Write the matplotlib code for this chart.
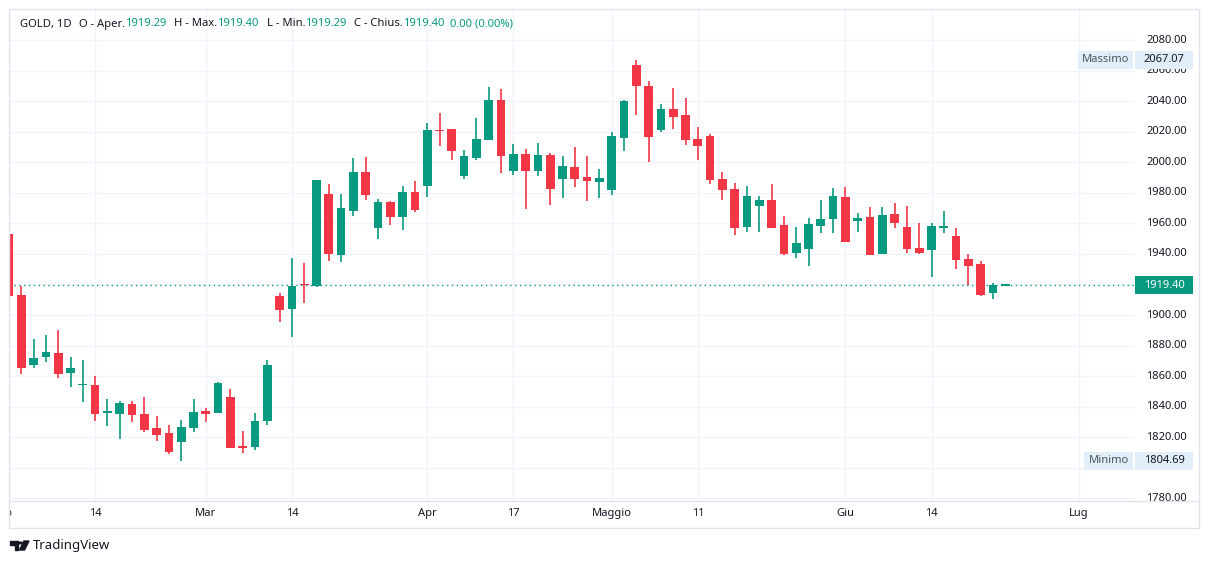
import matplotlib
matplotlib.use("Agg")
import matplotlib.pyplot as plt
from matplotlib.patches import Rectangle, Polygon, Circle
from matplotlib.lines import Line2D

plt.rcParams["font.family"] = ["Noto Sans", "DejaVu Sans"]

# daily OHLC, GOLD 1D
opens = [1953.0, 1913.1, 1867.3, 1872.5, 1875.2, 1862.1, 1854.0, 1854.2, 1836.1, 1835.5,
         1841.8, 1835.2, 1826.1, 1822.8, 1817.1, 1826.3, 1837.2, 1836.1, 1846.4, 1813.8,
         1813.9, 1830.9, 1912.5, 1904.2, 1920.0, 1919.2, 1979.2, 1939.5, 1968.3, 1993.6,
         1957.2, 1974.0, 1964.4, 1980.5, 1984.7, 2021.1, 2021.8, 1991.2, 2003.0, 2014.8,
         2040.7, 1994.5, 2005.4, 1994.5, 2004.7, 1989.3, 1996.9, 1990.3, 1987.3, 1982.1,
         2016.1, 2063.6, 2049.9, 2021.3, 2034.9, 2030.9, 2015.2, 2017.2, 1989.0, 1982.5,
         1957.6, 1971.4, 1975.3, 1958.9, 1940.8, 1943.4, 1958.5, 1963.1, 1977.2, 1961.8,
         1964.2, 1940.2, 1966.1, 1957.6, 1943.9, 1942.8, 1957.2, 1951.7, 1936.7, 1933.4,
         1914.2, 1919.29]
highs = [1955.0, 1919.0, 1884.3, 1886.9, 1890.2, 1872.5, 1870.6, 1860.1, 1845.1, 1843.7,
         1843.7, 1846.4, 1833.9, 1828.0, 1831.3, 1845.1, 1839.2, 1856.2, 1851.6, 1824.3,
         1835.9, 1870.6, 1914.4, 1937.3, 1934.1, 1988.4, 1985.8, 1979.2, 2003.0, 2003.4,
         1976.0, 1974.6, 1984.4, 1987.7, 2025.7, 2032.2, 2022.0, 2008.0, 2028.9, 2049.3,
         2047.9, 2011.9, 2008.7, 2012.6, 2006.0, 2004.1, 2010.0, 2004.1, 1995.6, 2019.8,
         2040.7, 2067.07, 2053.2, 2038.1, 2048.6, 2042.0, 2023.1, 2018.5, 1993.6, 1986.4,
         1984.4, 1977.9, 1985.8, 1964.8, 1957.6, 1963.5, 1975.3, 1983.1, 1983.8, 1966.8,
         1970.7, 1970.7, 1973.3, 1971.4, 1960.2, 1960.2, 1968.1, 1957.0, 1939.9, 1935.4,
         1921.2, 1919.40]
lows = [1911.0, 1861.4, 1865.6, 1869.5, 1859.0, 1853.1, 1843.3, 1830.9, 1827.6, 1819.1,
        1830.2, 1823.7, 1817.8, 1809.3, 1804.69, 1823.7, 1830.2, 1835.7, 1813.0, 1809.9,
        1811.9, 1828.3, 1895.7, 1885.8, 1908.1, 1918.6, 1935.6, 1935.0, 1965.0, 1975.5,
        1950.0, 1959.1, 1955.9, 1967.7, 1977.5, 2010.9, 2001.7, 1989.3, 2001.7, 2014.8,
        1993.2, 1991.9, 1969.6, 1991.2, 1972.2, 1976.8, 1984.0, 1974.9, 1976.8, 1978.8,
        2007.6, 2031.1, 2000.4, 2020.0, 2022.0, 2011.5, 2001.7, 1986.0, 1975.5, 1952.4,
        1954.3, 1954.3, 1957.0, 1939.5, 1937.6, 1932.3, 1953.9, 1953.9, 1947.8, 1954.6,
        1939.3, 1940.0, 1957.2, 1940.8, 1940.2, 1925.1, 1953.9, 1930.3, 1919.9, 1912.7,
        1910.7, 1919.29]
closes = [1912.5, 1865.6, 1871.9, 1875.8, 1861.6, 1865.3, 1854.3, 1835.5, 1836.6, 1842.4,
          1834.8, 1825.0, 1821.7, 1810.6, 1826.7, 1836.6, 1835.5, 1855.5, 1813.2, 1813.2,
          1830.7, 1867.3, 1903.5, 1919.0, 1919.4, 1988.4, 1940.2, 1970.1, 1993.6, 1978.8,
          1974.0, 1964.4, 1980.5, 1969.0, 2021.1, 2020.6, 2007.6, 2004.1, 2015.2, 2040.7,
          2004.3, 2005.4, 1994.5, 2004.7, 1982.7, 1997.5, 1989.3, 1988.0, 1989.7, 2017.2,
          2040.1, 2050.1, 2016.7, 2034.9, 2029.8, 2014.8, 2010.9, 1988.6, 1982.1, 1957.2,
          1977.9, 1975.3, 1957.2, 1940.2, 1947.2, 1959.6, 1962.8, 1977.9, 1948.0, 1963.5,
          1939.5, 1965.5, 1960.4, 1943.4, 1940.8, 1958.3, 1957.6, 1936.2, 1932.3, 1913.3,
          1919.4, 1919.40]

price_ticks = [1780, 1800, 1820, 1840, 1860, 1880, 1900, 1920, 1940, 1960,
               1980, 2000, 2020, 2040, 2060, 2080]
time_labels = ["Feb", "14", "Mar", "14", "Apr", "17", "Maggio", "11", "Giu", "14", "Lug"]
time_pos = [-0.45, 7, 16, 23, 34, 41, 49, 56, 68, 75, 87]

last_price = 1919.40
max_price = 2067.07
min_price = 1804.69

UP = "#089981"
DOWN = "#F23645"
TXT = "#131722"
GRID = "#F0F3FA"
FRAME = "#E0E3EB"

W, H = 1209, 564
STEP = 12.3  # px per bar


def box(x0, y0, x1, y1):
    return [x0 / W, 1 - y1 / H, (x1 - x0) / W, (y1 - y0) / H]


def fp(x, y):
    return x / W, 1 - y / H


fig = plt.figure(figsize=(W / 100, H / 100), dpi=100)
fig.patch.set_facecolor("white")

ylo, yhi = 1778.3, 2100.3
ax = fig.add_axes(box(9, 9, 1135, 501))
ax.set_xlim(0, (1135 - 9) / STEP)
ax.set_ylim(ylo, yhi)
ax.axis("off")

for p in price_ticks:
    ax.axhline(p, color=GRID, lw=1, zorder=0)
for t in time_pos[1:]:
    ax.axvline(t, color=GRID, lw=1, zorder=0)

n = len(opens)
idx = list(range(n))
cols = [UP if c >= o else DOWN for o, c in zip(opens, closes)]
bottoms = [min(o, c) for o, c in zip(opens, closes)]
heights = [max(abs(c - o), 0.8) for o, c in zip(opens, closes)]
ax.vlines(idx, lows, highs, colors=cols, lw=1.2, zorder=2)
ax.bar(idx, heights, bottom=bottoms, width=0.7, color=cols, lw=0, zorder=3)

ax.axhline(last_price, color=UP, lw=1, ls=(0, (1, 2.5)), zorder=1)

# price scale
pax = fig.add_axes(box(1135, 9, 1199, 501))
pax.set_xlim(0, 64)
pax.set_ylim(ylo, yhi)
pax.axis("off")
for p in price_ticks:
    if abs(p - last_price) < 5:
        continue  # sits under the last-price tag
    pax.text(52, p, f"{p:.2f}", ha="right", va="center", fontsize=8, color=TXT,
             clip_on=True)


def tag(x0, x1, yc, label, bg, fg, bold=False, size=8):
    r = Rectangle(fp(x0, yc + 9), (x1 - x0) / W, 18 / H, transform=fig.transFigure,
                  facecolor=bg, edgecolor="none", zorder=5)
    fig.add_artist(r)
    fig.text(*fp((x0 + x1) / 2, yc), label, ha="center", va="center", fontsize=size,
             color=fg, fontweight="bold" if bold else "normal", zorder=6)


def ypix(p):
    return 9 + (yhi - p) / (yhi - ylo) * (501 - 9)


ym = ypix(max_price)
tag(1078, 1133, ym, "Massimo", "#E3EEFB", "#4C525E")
tag(1135, 1193, ym, f"{max_price:.2f}", "#E3EEFB", TXT)
yn = ypix(min_price)
tag(1084, 1133, yn, "Minimo", "#E3EEFB", "#4C525E")
tag(1135, 1193, yn, f"{min_price:.2f}", "#E3EEFB", TXT)
tag(1135, 1193, ypix(last_price), f"{last_price:.2f}", UP, "white", bold=True)

# time axis
tax = fig.add_axes(box(9, 501, 1199, 528))
tax.set_xlim(0, (1199 - 9) / STEP)
tax.set_ylim(0, 1)
tax.axis("off")
for lab, t in zip(time_labels, time_pos):
    tax.text(t, 0.52, lab, ha="center", va="center", fontsize=8, color=TXT, clip_on=True)

# frame
fig.add_artist(Rectangle(fp(9, 528), 1190 / W, 519 / H, transform=fig.transFigure,
                         facecolor="none", edgecolor=FRAME, lw=1, zorder=10))
fig.add_artist(Line2D([9 / W, 1199 / W], [1 - 501 / H] * 2, transform=fig.transFigure,
                      color=FRAME, lw=1, zorder=10))

# header legend
pieces = [("GOLD, 1D", TXT, 7), ("O - Aper.", TXT, 0), ("1919.29", UP, 8),
          ("H - Max.", TXT, 0), ("1919.40", UP, 8), ("L - Min.", TXT, 0),
          ("1919.29", UP, 8), ("C - Chius.", TXT, 0), ("1919.40", UP, 5),
          ("0.00 (0.00%)", UP, 0)]
fig.canvas.draw()
rend = fig.canvas.get_renderer()
x = 20
for s, c, gap in pieces:
    t = fig.text(*fp(x, 24), s, ha="left", va="center", fontsize=8.1, color=c)
    x += t.get_window_extent(rend).width + gap

# footer logo
fig.add_artist(Polygon([fp(10, 541), fp(18, 541), fp(18, 550), fp(14.5, 550),
                        fp(14.5, 545), fp(10, 545)], closed=True,
                       transform=fig.transFigure, color=TXT))
fig.add_artist(Circle(fp(20.5, 543), 1.8 / W, transform=fig.transFigure, color=TXT))
fig.add_artist(Polygon([fp(24, 541), fp(29, 541), fp(24.5, 550), fp(19.5, 550)],
                       closed=True, transform=fig.transFigure, color=TXT))
fig.text(*fp(33, 546), "TradingView", ha="left", va="center", fontsize=9.5, color=TXT)

fig.savefig("out.png", dpi=100)
